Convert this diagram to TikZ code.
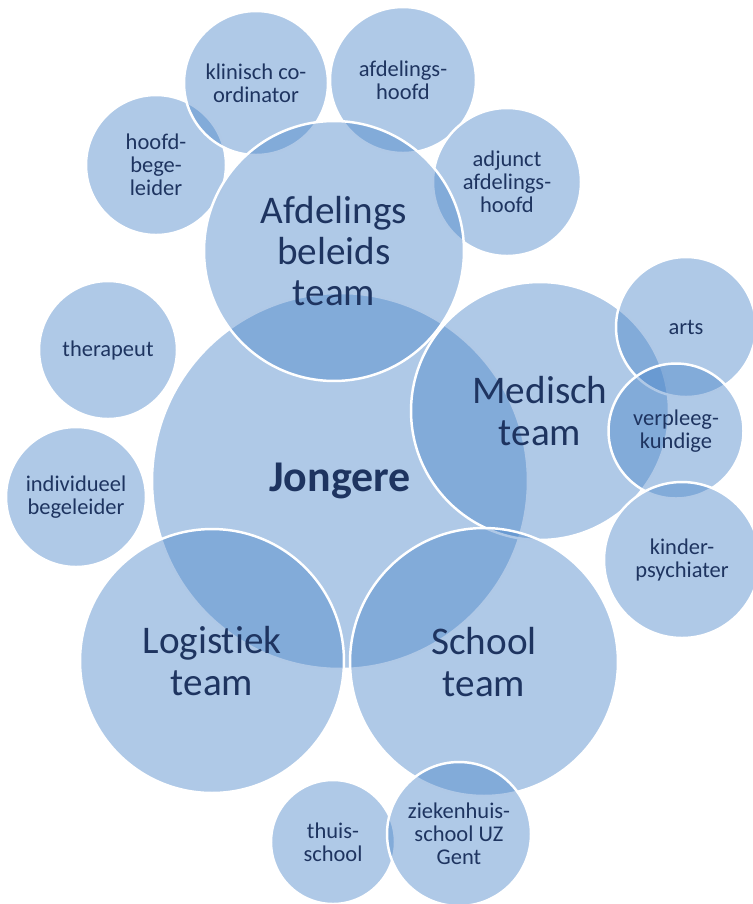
\documentclass[tikz,border=0pt]{standalone}
\usepackage{fontspec}
\setmainfont[Ligatures=NoCommon]{Carlito}
\usepackage{tikz}
\definecolor{bubblefill}{RGB}{73,132,200}
\definecolor{bubbletext}{RGB}{30,52,96}

\begin{document}
\begin{tikzpicture}[x=0.02cm, y=-0.02cm,
    bubble/.style={circle, draw=white, line width=1.4pt, fill=bubblefill, fill opacity=0.44,
        text opacity=1, text=bubbletext, align=center, inner sep=0pt, minimum size=#1},
    small/.style={font=\fontsize{12.8}{13.2}\selectfont},
    big/.style={font=\fontsize{22.3}{23.5}\selectfont}]
    \useasboundingbox (0,0) rectangle (753,904);

    \node[bubble=7.52cm, font=\fontsize{25}{28}\selectfont\bfseries] (jongere) at (340,481) {Jongere};

    \node[bubble=2.8cm, small] (hoofdbegeleider) at (156,165) {hoofd-\\bege-\\leider};
    \node[bubble=2.88cm, small] (coordinator) at (256,83) {klinisch co-\\ordinator};
    \node[bubble=2.92cm, small] (afdelingshoofd) at (403,80) {afdelings-\\hoofd};
    \node[bubble=2.96cm, small] (adjunct) at (507,182) {adjunct\\afdelings-\\hoofd};
    \node[bubble=5.2cm, big] (beleidsteam) at (334,251) {Afdelings\\beleids\\team};

    \node[bubble=5.16cm, big] (medisch) at (540,411) {Medisch\\team};
    \node[bubble=2.8cm, small] (arts) at (686,327) {arts};
    \node[bubble=2.7cm, small] (verpleeg) at (676,431) {verpleeg-\\kundige};
    \node[bubble=3.12cm, small] (psychiater) at (682,560) {kinder-\\psychiater};

    \node[bubble=5.28cm, big] (logistiek) at (212,661) {Logistiek\\team};
    \node[bubble=5.36cm, big] (school) at (484,662) {School\\team};
    \node[bubble=2.48cm, small] (thuisschool) at (333,842) {thuis-\\school};
    \node[bubble=2.88cm, small] (ziekenhuis) at (459,834) {ziekenhuis-\\school UZ\\Gent};

    \node[bubble=2.76cm, small] (therapeut) at (108,350) {therapeut};
    \node[bubble=2.8cm, small] (begeleider) at (76,497) {individueel\\begeleider};
\end{tikzpicture}
\end{document}
